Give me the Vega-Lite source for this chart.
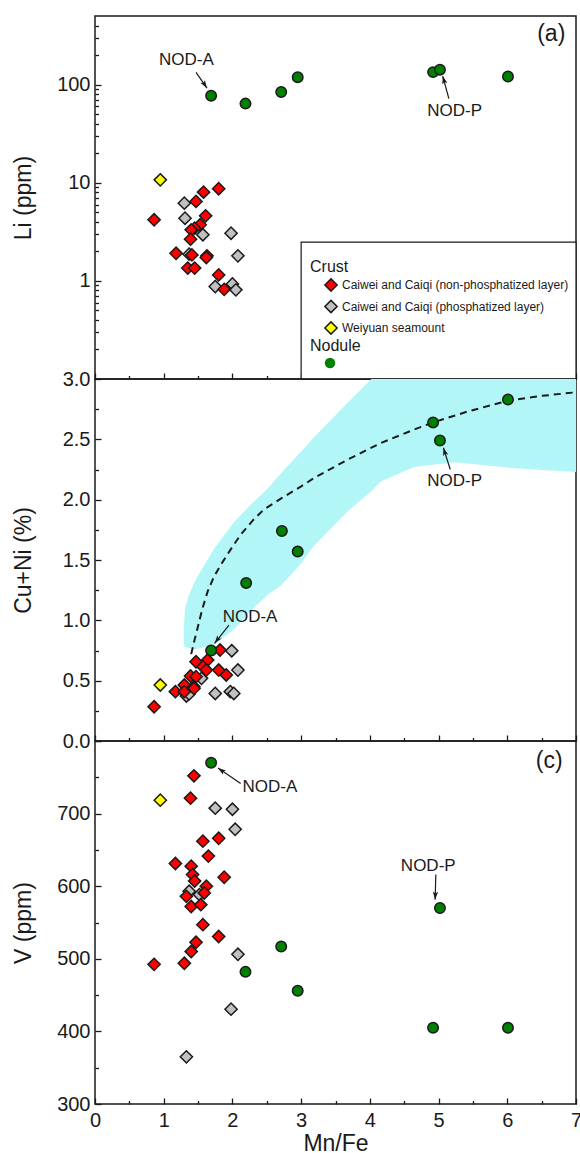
{
  "$schema": "https://vega.github.io/schema/vega-lite/v6.json",
  "padding": {"left": 11, "top": 14, "right": 5, "bottom": 0},
  "spacing": 0,
  "bounds": "flush",
  "config": {
    "font": "Liberation Sans",
    "view": {"stroke": "#1a1a1a", "strokeWidth": 1.5},
    "axis": {"domain": false, "grid": false, "tickColor": "#1a1a1a", "tickWidth": 1.3, "labelFont": "Liberation Sans", "labelFontSize": 20, "labelColor": "#1a1a1a", "titleFont": "Liberation Sans", "titleFontSize": 23, "titleFontWeight": "normal", "titleColor": "#1a1a1a", "labelOverlap": false, "labelFlush": false},
    "legend": {"labelFont": "Liberation Sans", "titleFont": "Liberation Sans", "titleFontWeight": "normal", "titleFontSize": 16, "labelFontSize": 12, "labelColor": "#1a1a1a", "titleColor": "#1a1a1a", "padding": 0, "labelLimit": 320}
  },
  "resolve": {"scale": {"fill": "independent", "shape": "independent"}, "legend": {"fill": "independent", "shape": "independent"}},
  "datasets": {
    "liC": [
      {"g":"P","x":1.30,"y":6.19},{"g":"P","x":1.31,"y":4.35},{"g":"P","x":1.57,"y":2.95},{"g":"P","x":1.98,"y":3.06},{"g":"P","x":1.37,"y":1.87},{"g":"P","x":2.08,"y":1.80},{"g":"P","x":1.75,"y":0.875},{"g":"P","x":2.00,"y":0.93},{"g":"P","x":2.05,"y":0.81},
      {"g":"NP","x":1.80,"y":8.69},{"g":"NP","x":1.58,"y":8.02},{"g":"NP","x":1.47,"y":6.45},{"g":"NP","x":0.86,"y":4.19},{"g":"NP","x":1.61,"y":4.6},{"g":"NP","x":1.53,"y":3.73},{"g":"NP","x":1.45,"y":3.44},{"g":"NP","x":1.40,"y":3.31},{"g":"NP","x":1.39,"y":2.66},{"g":"NP","x":1.18,"y":1.91},{"g":"NP","x":1.41,"y":1.84},{"g":"NP","x":1.63,"y":1.80},{"g":"NP","x":1.62,"y":1.73},{"g":"NP","x":1.35,"y":1.35},{"g":"NP","x":1.45,"y":1.35},{"g":"NP","x":1.80,"y":1.15},{"g":"NP","x":1.88,"y":0.82},
      {"g":"W","x":0.95,"y":10.7}
    ],
    "liN": [{"k":"N","x":1.69,"y":77},{"k":"N","x":2.19,"y":64},{"k":"N","x":2.71,"y":84},{"k":"N","x":2.95,"y":119},{"k":"N","x":4.92,"y":134},{"k":"N","x":5.02,"y":142},{"k":"N","x":6.01,"y":121}],
    "cuC": [
      {"g":"P","x":1.99,"y":0.748},{"g":"P","x":2.08,"y":0.588},{"g":"P","x":1.55,"y":0.519},{"g":"P","x":1.33,"y":0.373},{"g":"P","x":1.37,"y":0.39},{"g":"P","x":1.75,"y":0.394},{"g":"P","x":1.97,"y":0.409},{"g":"P","x":2.02,"y":0.394},
      {"g":"NP","x":1.82,"y":0.754},{"g":"NP","x":1.47,"y":0.657},{"g":"NP","x":1.64,"y":0.671},{"g":"NP","x":1.57,"y":0.616},{"g":"NP","x":1.62,"y":0.588},{"g":"NP","x":1.80,"y":0.588},{"g":"NP","x":1.91,"y":0.547},{"g":"NP","x":1.39,"y":0.539},{"g":"NP","x":1.47,"y":0.533},{"g":"NP","x":1.30,"y":0.464},{"g":"NP","x":1.44,"y":0.45},{"g":"NP","x":1.17,"y":0.409},{"g":"NP","x":1.30,"y":0.409},{"g":"NP","x":1.44,"y":0.436},{"g":"NP","x":0.86,"y":0.284},
      {"g":"W","x":0.95,"y":0.464}
    ],
    "cuN": [{"k":"N","x":1.69,"y":0.75},{"k":"N","x":2.20,"y":1.31},{"k":"N","x":2.72,"y":1.74},{"k":"N","x":2.95,"y":1.57},{"k":"N","x":4.92,"y":2.64},{"k":"N","x":5.02,"y":2.49},{"k":"N","x":6.01,"y":2.83}],
    "vC": [
      {"g":"P","x":1.75,"y":707.5},{"g":"P","x":2.00,"y":706},{"g":"P","x":2.04,"y":678.4},{"g":"P","x":1.37,"y":593},{"g":"P","x":1.52,"y":588.4},{"g":"P","x":2.08,"y":506.2},{"g":"P","x":1.98,"y":430.6},{"g":"P","x":1.33,"y":365},
      {"g":"NP","x":1.44,"y":752},{"g":"NP","x":1.39,"y":721.3},{"g":"NP","x":1.80,"y":666},{"g":"NP","x":1.57,"y":662},{"g":"NP","x":1.65,"y":641.5},{"g":"NP","x":1.17,"y":631.3},{"g":"NP","x":1.40,"y":627.6},{"g":"NP","x":1.42,"y":616},{"g":"NP","x":1.45,"y":607},{"g":"NP","x":1.88,"y":612.4},{"g":"NP","x":1.62,"y":600},{"g":"NP","x":1.59,"y":590.7},{"g":"NP","x":1.33,"y":586},{"g":"NP","x":1.40,"y":572},{"g":"NP","x":1.54,"y":574.6},{"g":"NP","x":1.57,"y":547},{"g":"NP","x":1.80,"y":530.7},{"g":"NP","x":1.47,"y":522.8},{"g":"NP","x":1.40,"y":510},{"g":"NP","x":0.86,"y":492.4},{"g":"NP","x":1.30,"y":493.8},
      {"g":"W","x":0.95,"y":718.5}
    ],
    "vN": [{"k":"N","x":1.69,"y":770},{"k":"N","x":2.19,"y":482},{"k":"N","x":2.71,"y":517},{"k":"N","x":2.95,"y":456},{"k":"N","x":4.92,"y":405},{"k":"N","x":5.02,"y":570},{"k":"N","x":6.01,"y":405}],
    "band": [
      {"x":1.29,"y":0.80,"y2":0.90},{"x":1.31,"y":0.78,"y2":1.10},{"x":1.36,"y":0.77,"y2":1.20},{"x":1.45,"y":0.76,"y2":1.32},{"x":1.55,"y":0.77,"y2":1.42},{"x":1.74,"y":0.80,"y2":1.60},{"x":2.03,"y":0.93,"y2":1.82},{"x":2.27,"y":1.08,"y2":1.96},{"x":2.51,"y":1.21,"y2":2.09},{"x":2.71,"y":1.29,"y2":2.22},{"x":3.0,"y":1.47,"y2":2.40},{"x":3.19,"y":1.62,"y2":2.52},{"x":3.5,"y":1.80,"y2":2.70},{"x":3.67,"y":1.90,"y2":2.80},{"x":4.02,"y":2.07,"y2":3.0},{"x":4.16,"y":2.15,"y2":3.0},{"x":4.64,"y":2.27,"y2":3.0},{"x":5.23,"y":2.31,"y2":3.0},{"x":6.10,"y":2.26,"y2":3.0},{"x":7.0,"y":2.23,"y2":3.0}
    ],
    "curve": [
      {"x":1.40,"y":0.72},{"x":1.45,"y":0.84},{"x":1.49,"y":0.93},{"x":1.56,"y":1.09},{"x":1.64,"y":1.24},{"x":1.73,"y":1.36},{"x":1.83,"y":1.46},{"x":2.0,"y":1.61},{"x":2.12,"y":1.71},{"x":2.3,"y":1.83},{"x":2.46,"y":1.92},{"x":2.71,"y":2.01},{"x":3.0,"y":2.11},{"x":3.19,"y":2.18},{"x":3.67,"y":2.33},{"x":4.16,"y":2.47},{"x":4.64,"y":2.58},{"x":4.92,"y":2.64},{"x":5.42,"y":2.73},{"x":6.01,"y":2.82},{"x":6.5,"y":2.86},{"x":7.0,"y":2.89}
    ],
    "txt": [
      {"p":"a","label":"NOD-A","x":1.33,"y":177},{"p":"a","label":"NOD-P","x":5.235,"y":53.4},
      {"p":"b","label":"NOD-A","x":2.256,"y":1.03},{"p":"b","label":"NOD-P","x":5.235,"y":2.155},
      {"p":"c","label":"NOD-A","x":2.545,"y":736},{"p":"c","label":"NOD-P","x":4.85,"y":628}
    ],
    "arr": [
      {"p":"a","label":"NOD-A","x":1.63,"y":92,"x2":1.47,"y2":133},{"p":"a","label":"NOD-P","x":5.06,"y":122,"x2":5.15,"y2":72},
      {"p":"b","label":"NOD-A","x":1.74,"y":0.81,"x2":1.95,"y2":0.96},{"p":"b","label":"NOD-P","x":5.07,"y":2.43,"x2":5.17,"y2":2.25},
      {"p":"c","label":"NOD-A","x":1.79,"y":762.8,"x2":2.12,"y2":741.5},{"p":"c","label":"NOD-P","x":4.95,"y":581.5,"x2":4.96,"y2":616}
    ],
    "tags": [{"p":"a","label":"(a)","x":6.64,"y":326},{"p":"c","label":"(c)","x":6.61,"y":773}],
    "box": [{"x":3.0,"y":0.1,"x2":7.0,"y2":2.48}]
  },
  "vconcat": [
    {
      "width": 481, "height": 363,
      "encoding": {
        "x": {"field": "x", "type": "quantitative", "scale": {"domain": [0, 7], "nice": false, "zero": false},
              "axis": {"title": null, "values": [0,0.5,1,1.5,2,2.5,3,3.5,4,4.5,5,5.5,6,6.5,7], "labels": false,
                       "tickSize": {"condition": {"test": "datum.value % 1 == 0", "value": -6}, "value": -3.5}}},
        "y": {"field": "y", "type": "quantitative", "scale": {"type": "log", "domain": [0.1, 500], "nice": false},
              "axis": {"title": "Li (ppm)", "titleX": -60, "values": [0.2,0.3,0.4,0.5,0.6,0.7,0.8,0.9,1,2,3,4,5,6,7,8,9,10,20,30,40,50,60,70,80,90,100,200,300,400],
                       "format": "~g", "labelPadding": 11,
                       "labelExpr": "(datum.value == 1 || datum.value == 10 || datum.value == 100) ? datum.label : ''",
                       "tickSize": {"condition": {"test": "datum.value == 1 || datum.value == 10 || datum.value == 100", "value": -6}, "value": -3.5}}}
      },
      "layer": [
        {"data": {"name": "box"}, "mark": {"type": "rect", "fill": "white", "stroke": "#1a1a1a", "strokeWidth": 1.2, "opacity": 1},
         "encoding": {"x2": {"field": "x2"}, "y2": {"field": "y2"}}},
        {"data": {"name": "txt"}, "transform": [{"filter": "datum.p == 'a'"}],
         "mark": {"type": "text", "fontSize": 17, "font": "Liberation Sans", "color": "#1a1a1a"},
         "encoding": {"text": {"field": "label"}}},
        {"data": {"name": "arr"}, "transform": [{"filter": "datum.p == 'a'"}],
         "mark": {"type": "rule", "color": "#1a1a1a", "strokeWidth": 1.2},
         "encoding": {"x2": {"field": "x2"}, "y2": {"field": "y2"}}},
        {"data": {"name": "arr"}, "transform": [{"filter": "datum.p == 'a' && datum.label == 'NOD-A'"}],
         "mark": {"type": "point", "shape": "M0,0L0.6,1.8L0,1.35L-0.6,1.8Z", "filled": true, "color": "#1a1a1a", "size": 80, "angle": 147, "opacity": 1, "strokeWidth": 0}},
        {"data": {"name": "arr"}, "transform": [{"filter": "datum.p == 'a' && datum.label == 'NOD-P'"}],
         "mark": {"type": "point", "shape": "M0,0L0.6,1.8L0,1.35L-0.6,1.8Z", "filled": true, "color": "#1a1a1a", "size": 80, "angle": 344, "opacity": 1, "strokeWidth": 0}},
        {"data": {"name": "liC"},
         "mark": {"type": "point", "shape": "diamond", "filled": true, "size": 150, "stroke": "#1a1a1a", "strokeWidth": 1.5, "opacity": 1},
         "encoding": {"fill": {"field": "g", "type": "nominal", "scale": {"domain": ["NP", "P", "W"], "range": ["#ff0000", "#c0c0c0", "#ffff00"]},
           "legend": {"title": "Crust", "orient": "none", "legendX": 215, "legendY": 243, "symbolType": "diamond", "symbolSize": 150,
                      "symbolStrokeColor": "#1a1a1a", "symbolStrokeWidth": 1.5, "symbolOffset": 14, "labelOffset": 4, "rowPadding": 1.5, "titlePadding": 3,
                      "labelExpr": "datum.value == 'NP' ? 'Caiwei and Caiqi (non-phosphatized layer)' : datum.value == 'P' ? 'Caiwei and Caiqi (phosphatized layer)' : 'Weiyuan seamount'"}}}},
        {"data": {"name": "liN"},
         "mark": {"type": "point", "filled": true, "size": 110, "color": "#008000", "fill": "#008000", "stroke": "#1a1a1a", "strokeWidth": 1.5, "opacity": 1},
         "encoding": {"shape": {"field": "k", "type": "nominal", "scale": {"domain": ["N"], "range": ["circle"]},
           "legend": {"title": "Nodule", "orient": "none", "legendX": 215, "legendY": 322, "symbolSize": 110, "symbolFillColor": "#008000",
                      "symbolStrokeColor": "#1a1a1a", "symbolStrokeWidth": 1.5, "symbolOffset": 14, "titlePadding": 3, "labelExpr": "''"}}}},
        {"data": {"name": "tags"}, "transform": [{"filter": "datum.p == 'a'"}],
         "mark": {"type": "text", "fontSize": 23, "font": "Liberation Sans", "color": "#1a1a1a"},
         "encoding": {"text": {"field": "label"}}}
      ]
    },
    {
      "width": 481, "height": 362,
      "encoding": {
        "x": {"field": "x", "type": "quantitative", "scale": {"domain": [0, 7], "nice": false, "zero": false},
              "axis": {"title": null, "values": [0,0.5,1,1.5,2,2.5,3,3.5,4,4.5,5,5.5,6,6.5,7], "labels": false,
                       "tickSize": {"condition": {"test": "datum.value % 1 == 0", "value": -6}, "value": -3.5}}},
        "y": {"field": "y", "type": "quantitative", "scale": {"domain": [0, 3], "nice": false, "zero": false},
              "axis": {"title": "Cu+Ni (%)", "titleX": -60, "values": [0,0.25,0.5,0.75,1,1.25,1.5,1.75,2,2.25,2.5,2.75,3],
                       "format": ".1f", "labelPadding": 11,
                       "labelExpr": "(datum.value * 2) % 1 == 0 ? datum.label : ''",
                       "tickSize": {"condition": {"test": "(datum.value * 2) % 1 == 0", "value": -6}, "value": -3.5}}}
      },
      "layer": [
        {"data": {"name": "band"}, "mark": {"type": "area", "color": "#b3f6f7", "opacity": 1, "orient": "vertical"},
         "encoding": {"y2": {"field": "y2"}}},
        {"data": {"name": "curve"}, "mark": {"type": "line", "color": "#1a1a1a", "strokeWidth": 2, "strokeDash": [7, 5]}, "encoding": {}},
        {"data": {"name": "txt"}, "transform": [{"filter": "datum.p == 'b'"}],
         "mark": {"type": "text", "fontSize": 17, "font": "Liberation Sans", "color": "#1a1a1a"},
         "encoding": {"text": {"field": "label"}}},
        {"data": {"name": "arr"}, "transform": [{"filter": "datum.p == 'b'"}],
         "mark": {"type": "rule", "color": "#1a1a1a", "strokeWidth": 1.2},
         "encoding": {"x2": {"field": "x2"}, "y2": {"field": "y2"}}},
        {"data": {"name": "arr"}, "transform": [{"filter": "datum.p == 'b' && datum.label == 'NOD-A'"}],
         "mark": {"type": "point", "shape": "M0,0L0.6,1.8L0,1.35L-0.6,1.8Z", "filled": true, "color": "#1a1a1a", "size": 80, "angle": 218, "opacity": 1, "strokeWidth": 0}},
        {"data": {"name": "arr"}, "transform": [{"filter": "datum.p == 'b' && datum.label == 'NOD-P'"}],
         "mark": {"type": "point", "shape": "M0,0L0.6,1.8L0,1.35L-0.6,1.8Z", "filled": true, "color": "#1a1a1a", "size": 80, "angle": 343, "opacity": 1, "strokeWidth": 0}},
        {"data": {"name": "cuC"},
         "mark": {"type": "point", "shape": "diamond", "filled": true, "size": 150, "stroke": "#1a1a1a", "strokeWidth": 1.5, "opacity": 1},
         "encoding": {"fill": {"field": "g", "type": "nominal", "scale": {"domain": ["NP", "P", "W"], "range": ["#ff0000", "#c0c0c0", "#ffff00"]}, "legend": null}}},
        {"data": {"name": "cuN"},
         "mark": {"type": "point", "shape": "circle", "filled": true, "size": 110, "color": "#008000", "fill": "#008000", "stroke": "#1a1a1a", "strokeWidth": 1.5, "opacity": 1}}
      ]
    },
    {
      "width": 481, "height": 363,
      "encoding": {
        "x": {"field": "x", "type": "quantitative", "scale": {"domain": [0, 7], "nice": false, "zero": false},
              "axis": {"title": "Mn/Fe", "values": [0,0.5,1,1.5,2,2.5,3,3.5,4,4.5,5,5.5,6,6.5,7], "format": "~g", "labelPadding": 12.5, "titlePadding": -1,
                       "labelExpr": "datum.value % 1 == 0 ? datum.label : ''",
                       "tickSize": {"condition": {"test": "datum.value % 1 == 0", "value": -6}, "value": -3.5}}},
        "y": {"field": "y", "type": "quantitative", "scale": {"domain": [300, 800], "nice": false, "zero": false},
              "axis": {"title": "V (ppm)", "titleX": -60, "values": [300,350,400,450,500,550,600,650,700,750,800],
                       "format": "d", "labelPadding": 11,
                       "labelExpr": "(datum.value % 100 == 0 && datum.value < 800) ? datum.label : ''",
                       "tickSize": {"condition": {"test": "datum.value % 100 == 0", "value": -6}, "value": -3.5}}}
      },
      "layer": [
        {"data": {"name": "txt"}, "transform": [{"filter": "datum.p == 'c'"}],
         "mark": {"type": "text", "fontSize": 17, "font": "Liberation Sans", "color": "#1a1a1a"},
         "encoding": {"text": {"field": "label"}}},
        {"data": {"name": "arr"}, "transform": [{"filter": "datum.p == 'c'"}],
         "mark": {"type": "rule", "color": "#1a1a1a", "strokeWidth": 1.2},
         "encoding": {"x2": {"field": "x2"}, "y2": {"field": "y2"}}},
        {"data": {"name": "arr"}, "transform": [{"filter": "datum.p == 'c' && datum.label == 'NOD-A'"}],
         "mark": {"type": "point", "shape": "M0,0L0.6,1.8L0,1.35L-0.6,1.8Z", "filled": true, "color": "#1a1a1a", "size": 80, "angle": 305, "opacity": 1, "strokeWidth": 0}},
        {"data": {"name": "arr"}, "transform": [{"filter": "datum.p == 'c' && datum.label == 'NOD-P'"}],
         "mark": {"type": "point", "shape": "M0,0L0.6,1.8L0,1.35L-0.6,1.8Z", "filled": true, "color": "#1a1a1a", "size": 80, "angle": 182, "opacity": 1, "strokeWidth": 0}},
        {"data": {"name": "vC"},
         "mark": {"type": "point", "shape": "diamond", "filled": true, "size": 150, "stroke": "#1a1a1a", "strokeWidth": 1.5, "opacity": 1},
         "encoding": {"fill": {"field": "g", "type": "nominal", "scale": {"domain": ["NP", "P", "W"], "range": ["#ff0000", "#c0c0c0", "#ffff00"]}, "legend": null}}},
        {"data": {"name": "vN"},
         "mark": {"type": "point", "shape": "circle", "filled": true, "size": 110, "color": "#008000", "fill": "#008000", "stroke": "#1a1a1a", "strokeWidth": 1.5, "opacity": 1}},
        {"data": {"name": "tags"}, "transform": [{"filter": "datum.p == 'c'"}],
         "mark": {"type": "text", "fontSize": 23, "font": "Liberation Sans", "color": "#1a1a1a"},
         "encoding": {"text": {"field": "label"}}}
      ]
    }
  ]
}
